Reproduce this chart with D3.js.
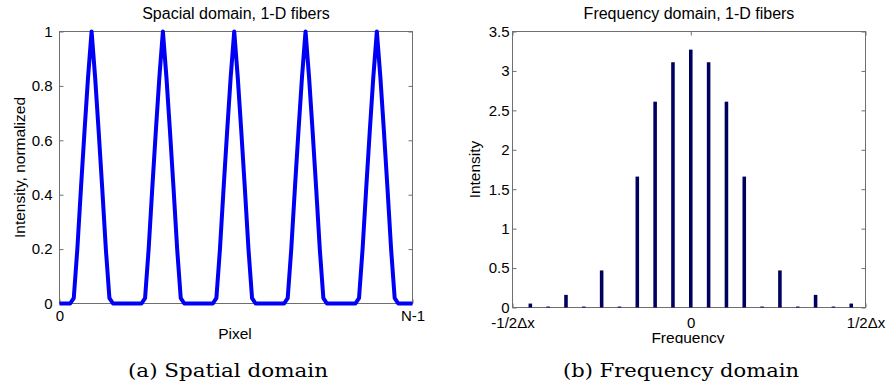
<!DOCTYPE html>
<html><head><meta charset="utf-8">
<script src="https://cdn.jsdelivr.net/npm/d3@7"></script>
<style>body{margin:0;background:#fff}svg{display:block}</style>
</head><body>
<svg id="c" width="896" height="387"></svg>
<script>
// ---------------- data ----------------
const pixelIndex = d3.range(100); // 0 .. N-1
const spatialIntensity = [
  0,0,0,0,0.02,0.2,0.42,0.63,0.83,1,0.83,0.63,0.42,0.2,0.02,0,0,0,0,0,
  0,0,0,0,0.02,0.2,0.42,0.63,0.83,1,0.83,0.63,0.42,0.2,0.02,0,0,0,0,0,
  0,0,0,0,0.02,0.2,0.42,0.63,0.83,1,0.83,0.63,0.42,0.2,0.02,0,0,0,0,0,
  0,0,0,0,0.02,0.2,0.42,0.63,0.83,1,0.83,0.63,0.42,0.2,0.02,0,0,0,0,0,
  0,0,0,0,0.02,0.2,0.42,0.63,0.83,1,0.83,0.63,0.42,0.2,0.02,0,0,0,0,0
];
const freqBins = [-45,-40,-35,-30,-25,-20,-15,-10,-5,0,5,10,15,20,25,30,35,40,45];
const freqIntensity = [0.05,0.012,0.16,0.012,0.47,0.012,1.66,2.61,3.11,3.27,3.11,2.61,1.66,0.012,0.47,0.012,0.16,0.012,0.05];

const leftYTicks = [0,0.2,0.4,0.6,0.8,1];
const leftXTicks = [0,99];
const leftXTickLabels = ["0","N-1"];
const rightYTicks = [0,0.5,1,1.5,2,2.5,3,3.5];
const rightXTicks = [-50,0,49];
const rightXTickLabels = ["-1/2\u0394x","0","1/2\u0394x"];

const titles = ["Spacial domain, 1-D fibers","Frequency domain, 1-D fibers"];
const xLabels = ["Pixel","Frequency"];
const yLabels = ["Intensity, normalized","Intensity"];
const captions = ["(a) Spatial domain","(b) Frequency domain"];

// ---------------- drawing ----------------
const svg = d3.select("#c");
const FONT = "'Liberation Sans', Arial, Helvetica, sans-serif";
const BOX = "#6f6f6f";
const TICKFS = 15, LABFS = 15.5, TITFS = 16;

function frame(g, x, y, w, h) {
  g.append("rect").attr("x", x).attr("y", y).attr("width", w).attr("height", h)
    .attr("fill", "none").attr("stroke", BOX).attr("stroke-width", 1);
}
function styleAxis(sel) {
  sel.select(".domain").remove();
  sel.selectAll(".tick line").attr("stroke", BOX);
  sel.selectAll(".tick text").attr("font-family", FONT).attr("font-size", TICKFS).attr("fill", "#000");
}

// ---- left panel ----
{
  const L = 59.5, R = 412.5, T = 31.5, B = 303.5;
  const x = d3.scaleLinear().domain([0, 99]).range([L, R]);
  const y = d3.scaleLinear().domain([0, 1]).range([B, T]);
  const g = svg.append("g");

  g.append("g").attr("transform", `translate(${L},0)`)
    .call(d3.axisLeft(y).tickValues(leftYTicks).tickFormat(d3.format("~g")).tickSizeInner(-4).tickSizeOuter(0).tickPadding(7))
    .call(styleAxis);
  g.append("g").attr("transform", `translate(${R},0)`)
    .call(d3.axisRight(y).tickValues(leftYTicks).tickFormat("").tickSizeInner(-4).tickSizeOuter(0))
    .call(styleAxis);
  g.append("g").attr("transform", `translate(0,${B})`)
    .call(d3.axisBottom(x).tickValues(leftXTicks).tickFormat((d,i)=>leftXTickLabels[i]).tickSizeInner(-4).tickSizeOuter(0).tickPadding(7))
    .call(styleAxis);
  frame(g, L, T, R - L, B - T);

  g.append("path").datum(pixelIndex)
    .attr("fill", "none").attr("stroke", "#0000f5").attr("stroke-width", 4)
    .attr("stroke-linejoin", "round")
    .attr("d", d3.line().x(i => x(i)).y(i => y(spatialIntensity[i])));

  g.append("text").attr("x", (L + R) / 2).attr("y", 19).attr("text-anchor", "middle")
    .attr("font-family", FONT).attr("font-size", TITFS).text(titles[0]);
  g.append("text").attr("x", 235).attr("y", 339).attr("text-anchor", "middle")
    .attr("font-family", FONT).attr("font-size", LABFS).text(xLabels[0]);
  g.append("text").attr("transform", `translate(25,${(T + B) / 2}) rotate(-90)`).attr("text-anchor", "middle")
    .attr("font-family", FONT).attr("font-size", LABFS).text(yLabels[0]);
  g.append("text").attr("x", 228).attr("y", 376.5).attr("text-anchor", "middle")
    .attr("font-family", "'DejaVu Serif', serif").attr("font-size", 19)
    .attr("textLength", 200).attr("lengthAdjust", "spacingAndGlyphs").text(captions[0]);
}

// ---- right panel ----
{
  const L = 512.5, R = 865.5, T = 31.5, B = 307.5;
  const x = d3.scaleLinear().domain([-50, 49]).range([L, R]);
  const y = d3.scaleLinear().domain([0, 3.5]).range([B, T]);
  const g = svg.append("g");

  g.append("g").attr("transform", `translate(${L},0)`)
    .call(d3.axisLeft(y).tickValues(rightYTicks).tickFormat(d3.format("~g")).tickSizeInner(-4).tickSizeOuter(0).tickPadding(3))
    .call(styleAxis);
  g.append("g").attr("transform", `translate(${R},0)`)
    .call(d3.axisRight(y).tickValues(rightYTicks).tickFormat("").tickSizeInner(-4).tickSizeOuter(0))
    .call(styleAxis);
  g.append("g").attr("transform", `translate(0,${B})`)
    .call(d3.axisBottom(x).tickValues(rightXTicks).tickFormat((d,i)=>rightXTickLabels[i]).tickSizeInner(-4).tickSizeOuter(0).tickPadding(9.5))
    .call(styleAxis);
  g.append("g").attr("transform", `translate(0,${T})`)
    .call(d3.axisTop(x).tickValues(rightXTicks).tickFormat("").tickSizeInner(-4).tickSizeOuter(0))
    .call(styleAxis);
  frame(g, L, T, R - L, B - T);

  g.selectAll("rect.bar").data(freqBins).enter().append("rect").attr("class", "bar")
    .attr("x", d => x(d - 0.5)).attr("width", d => x(d + 0.5) - x(d - 0.5))
    .attr("y", (d, i) => y(freqIntensity[i])).attr("height", (d, i) => y(0) - y(freqIntensity[i]))
    .attr("fill", "#00005e");

  g.append("text").attr("x", (L + R) / 2).attr("y", 19).attr("text-anchor", "middle")
    .attr("font-family", FONT).attr("font-size", TITFS).text(titles[1]);

  svg.append("defs").append("clipPath").attr("id", "clipF")
    .append("rect").attr("x", 0).attr("y", 0).attr("width", 896).attr("height", 343.5);
  g.append("text").attr("x", 688).attr("y", 342.5).attr("text-anchor", "middle")
    .attr("clip-path", "url(#clipF)")
    .attr("font-family", FONT).attr("font-size", LABFS).text(xLabels[1]);
  g.append("text").attr("transform", `translate(480,${(T + B) / 2}) rotate(-90)`).attr("text-anchor", "middle")
    .attr("font-family", FONT).attr("font-size", LABFS).text(yLabels[1]);
  g.append("text").attr("x", 681).attr("y", 376.5).attr("text-anchor", "middle")
    .attr("font-family", "'DejaVu Serif', serif").attr("font-size", 19)
    .attr("textLength", 236).attr("lengthAdjust", "spacingAndGlyphs").text(captions[1]);
}
</script>
</body></html>
